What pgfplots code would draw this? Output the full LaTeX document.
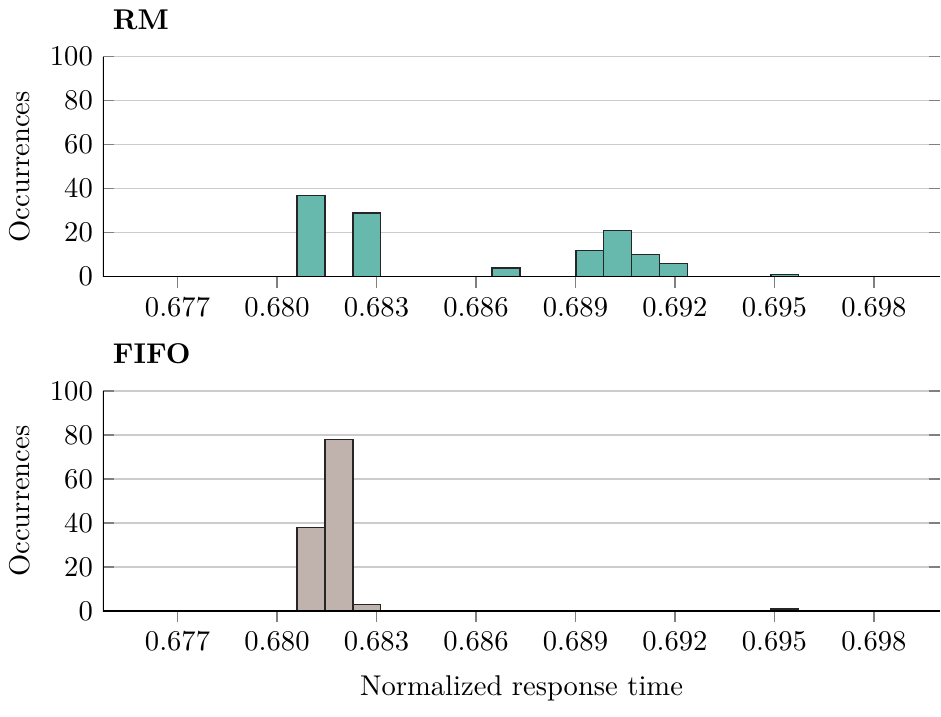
\documentclass[border=0pt]{standalone}
\usepackage{pgfplots}
\pgfplotsset{compat=1.18}
\definecolor{rmfill}{RGB}{103,184,173}
\definecolor{fifofill}{RGB}{192,178,172}
\pgfplotsset{
  histo/.style={
    scale only axis,
    width=293pt, height=77pt,
    xmin=0.67475, xmax=0.7,
    ymin=0, ymax=100,
    ytick={0,20,40,60,80,100},
    xtick={0.677,0.680,0.683,0.686,0.689,0.692,0.695,0.698},
    xticklabel style={/pgf/number format/.cd, fixed, fixed zerofill, precision=3},
    scaled x ticks=false,
    axis line style={draw=none},
    xtick pos=lower, ytick pos=both,
    ymajorgrids, grid style={gray!40, line width=0.5pt},
    major tick length=3.8pt,
    xtick align=outside, ytick align=inside,
    tick style={gray, line width=0.5pt},
    ylabel={Occurrences},
    title style={at={(0,1)}, anchor=south west, yshift=0pt, font=\bfseries},
    ybar, bar width=0.00084, bar shift=0pt,
  },
}
\begin{document}
\begin{tikzpicture}
\begin{axis}[histo, name=top, title={RM}]
\addplot[fill=rmfill, draw=black!85, line width=0.5pt] coordinates {
(0.681029,37) (0.682709,29) (0.686909,4) (0.689429,12) (0.690269,21) (0.691109,10) (0.691949,6) (0.695309,1)
};
\draw[black, line width=0.6pt] (rel axis cs:0,1) -- (rel axis cs:0,0) -- (rel axis cs:1,0);
\end{axis}
\begin{axis}[histo, at={(top.south west)}, anchor=north west, yshift=-40pt, title={FIFO}, xlabel={Normalized response time}, xlabel style={inner ysep=5.3pt}]
\addplot[fill=fifofill, draw=black!85, line width=0.5pt] coordinates {
(0.681029,38) (0.681869,78) (0.682709,3) (0.695309,1)
};
\draw[black, line width=0.6pt] (rel axis cs:0,1) -- (rel axis cs:0,0) -- (rel axis cs:1,0);
\end{axis}
\end{tikzpicture}
\end{document}
